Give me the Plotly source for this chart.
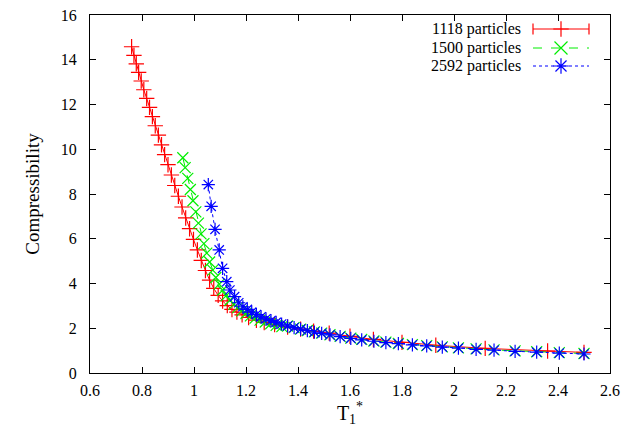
import plotly.graph_objects as go

# ---------------- data ----------------
t_1118 = [0.760, 0.769, 0.778, 0.787, 0.797, 0.807, 0.818, 0.829, 0.840, 0.851,
          0.863, 0.875, 0.887, 0.900, 0.913, 0.926, 0.940, 0.954, 0.968, 0.983,
          0.998, 1.013, 1.028, 1.044, 1.060, 1.076, 1.093, 1.110, 1.128, 1.146,
          1.165, 1.185, 1.210, 1.240, 1.270, 1.310, 1.360, 1.410, 1.460, 1.520,
          1.600, 1.690, 1.800, 1.930, 2.120, 2.360, 2.500]
c_1118 = [14.58, 14.20, 13.82, 13.44, 13.05, 12.66, 12.27, 11.87, 11.46, 11.05,
          10.63, 10.20, 9.76, 9.31, 8.85, 8.38, 7.90, 7.42, 6.93, 6.45,
          5.97, 5.50, 5.03, 4.58, 4.15, 3.78, 3.47, 3.22, 3.01, 2.84,
          2.72, 2.60, 2.48, 2.36, 2.26, 2.16, 2.05, 1.96, 1.87, 1.78,
          1.64, 1.50, 1.37, 1.24, 1.10, 0.98, 0.92]

t_1500 = [0.957, 0.966, 0.976, 0.986, 0.996, 1.007, 1.017, 1.027, 1.038, 1.049,
          1.060, 1.072, 1.084, 1.097, 1.110, 1.124, 1.138, 1.153, 1.168, 1.184,
          1.200, 1.217, 1.235, 1.254, 1.274, 1.295, 1.316, 1.338, 1.360, 1.385,
          1.410, 1.436, 1.463, 1.491, 1.523, 1.562, 1.603, 1.645, 1.692, 1.738,
          1.786, 1.840, 1.895, 1.955, 2.017, 2.085, 2.154, 2.235, 2.318, 2.405,
          2.500]
c_1500 = [9.62, 9.18, 8.70, 8.20, 7.70, 7.20, 6.70, 6.22, 5.78, 5.36,
          4.96, 4.60, 4.27, 3.97, 3.70, 3.46, 3.25, 3.07, 2.92, 2.78,
          2.66, 2.55, 2.45, 2.36, 2.28, 2.20, 2.13, 2.07, 2.10, 2.03,
          1.96, 1.90, 1.84, 1.78, 1.71, 1.64, 1.56, 1.50, 1.43, 1.38,
          1.32, 1.27, 1.22, 1.17, 1.12, 1.08, 1.03, 0.99, 0.95, 0.91,
          0.87]

t_2592 = [1.055, 1.066, 1.081, 1.097, 1.110, 1.126, 1.138, 1.156, 1.172, 1.188,
          1.205, 1.222, 1.240, 1.258, 1.277, 1.296, 1.316, 1.337, 1.360, 1.385,
          1.410, 1.436, 1.463, 1.491, 1.523, 1.562, 1.603, 1.645, 1.692, 1.738,
          1.786, 1.840, 1.895, 1.955, 2.017, 2.085, 2.154, 2.235, 2.318, 2.405,
          2.500]
c_2592 = [8.42, 7.45, 6.42, 5.50, 4.68, 4.08, 3.71, 3.41, 3.14, 2.96,
          2.84, 2.72, 2.61, 2.51, 2.42, 2.34, 2.26, 2.19, 2.11, 2.03,
          1.96, 1.89, 1.83, 1.77, 1.70, 1.63, 1.55, 1.48, 1.42, 1.36,
          1.31, 1.26, 1.21, 1.16, 1.11, 1.06, 1.02, 0.97, 0.93, 0.89,
          0.85]

series_labels = ["1118 particles", "1500 particles", "2592 particles"]
x_ticks = [0.6, 0.8, 1.0, 1.2, 1.4, 1.6, 1.8, 2.0, 2.2, 2.4, 2.6]
x_tick_text = ["0.6", "0.8", "1", "1.2", "1.4", "1.6", "1.8", "2", "2.2", "2.4", "2.6"]
y_ticks = [0, 2, 4, 6, 8, 10, 12, 14, 16]

# ---------------- style ----------------
FONT = "Liberation Serif"
styles = [
    dict(color="#ff0000", dash="solid", symbol="cross-thin-open", size=11),
    dict(color="#00ee00", dash="dash", symbol="x-thin-open", size=11),
    dict(color="#0000ff", dash="dot", symbol="asterisk-open", size=11),
]

fig = go.Figure()
for t, c, st, name in zip([t_1118, t_1500, t_2592], [c_1118, c_1500, c_2592], styles, series_labels):
    fig.add_trace(go.Scatter(
        x=t, y=c, mode="lines+markers", name=name, showlegend=False,
        line=dict(color=st["color"], width=1, dash=st["dash"]),
        marker=dict(symbol=st["symbol"], size=st["size"],
                    line=dict(color=st["color"], width=1.2), color=st["color"]),
        xaxis="x", yaxis="y",
    ))

# ---- gnuplot-style key (text right, sample on the right) drawn on an overlay axis ----
key_x0, key_x1, key_xm, key_text_x = 443, 499, 471, 433
key_rows = [14, 33, 51]
for st, name, ky in zip(styles, series_labels, key_rows):
    fig.add_trace(go.Scatter(
        x=[key_x0, key_x1], y=[ky, ky], mode="lines", showlegend=False, hoverinfo="skip",
        line=dict(color=st["color"], width=1, dash=st["dash"]), xaxis="x2", yaxis="y2"))
    fig.add_trace(go.Scatter(
        x=[key_xm], y=[ky], mode="markers", showlegend=False, hoverinfo="skip",
        marker=dict(symbol=st["symbol"], size=13 if st["dash"] != "solid" else 11,
                    color=st["color"], line=dict(color=st["color"], width=1.2)),
        xaxis="x2", yaxis="y2"))
    if st["dash"] == "solid":
        fig.add_trace(go.Scatter(
            x=[key_x0, key_x1], y=[ky, ky], mode="markers", showlegend=False, hoverinfo="skip",
            marker=dict(symbol="line-ns-open", size=8, color=st["color"],
                        line=dict(color=st["color"], width=1.2)),
            xaxis="x2", yaxis="y2"))
    fig.add_annotation(x=key_text_x, y=ky, xref="x2", yref="y2", text=name,
                       showarrow=False, xanchor="right", yanchor="middle",
                       font=dict(family=FONT, size=16, color="black"))

axis_common = dict(showline=True, linecolor="black", linewidth=1, mirror="ticks",
                   ticks="inside", ticklen=6, tickcolor="black", showgrid=False,
                   zeroline=False, automargin=False,
                   tickfont=dict(family=FONT, size=16, color="black"))

fig.update_layout(
    width=636, height=431,
    margin=dict(l=90, r=26, t=15, b=58),
    paper_bgcolor="white", plot_bgcolor="white",
    showlegend=False,
    xaxis=dict(range=[0.6, 2.6], tickvals=x_ticks, ticktext=x_tick_text,
               ticklabelstandoff=3,
               title=dict(text="T<sub>1</sub><sup>*</sup>", font=dict(family=FONT, size=20, color="black"),
                          standoff=7),
               **axis_common),
    yaxis=dict(range=[0, 16], tickvals=y_ticks, ticklabelstandoff=9,
               title=dict(text="Compressibility", font=dict(family=FONT, size=19, color="black"),
                          standoff=16),
               **axis_common),
    xaxis2=dict(range=[0, 520], overlaying="x", visible=False, fixedrange=True),
    yaxis2=dict(range=[358, 0], overlaying="y", visible=False, fixedrange=True, anchor="x2"),
)

fig.write_html("out.html", config={"displayModeBar": False},
               post_script="document.body.style.margin='0';document.body.style.overflow='hidden';")
